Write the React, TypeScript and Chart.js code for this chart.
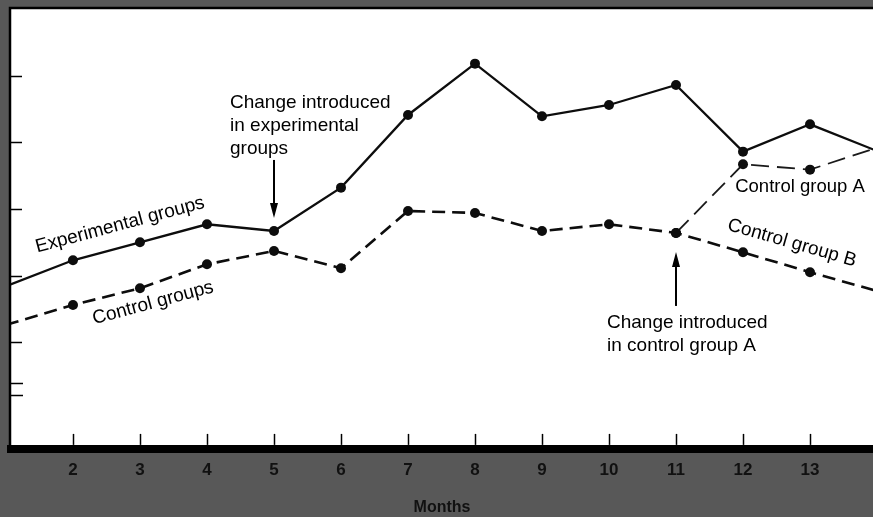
import React, { useEffect, useRef } from 'react';
import { Chart, registerables } from 'chart.js';

Chart.register(...registerables);

// ---- data ----
const months = [1, 2, 3, 4, 5, 6, 7, 8, 9, 10, 11, 12, 13, 14];
const monthTicks = [2, 3, 4, 5, 6, 7, 8, 9, 10, 11, 12, 13];
const experimental = [18.4, 22.3, 25.0, 27.7, 26.7, 33.2, 44.1, 51.8, 43.9, 45.6, 48.6, 38.6, 42.7, 38.7];
const controlB = [12.6, 15.6, 18.1, 21.7, 23.7, 21.1, 29.7, 29.4, 26.7, 27.7, 26.4, 23.5, 20.5, 17.7];
const controlA = [null, null, null, null, null, null, null, null, null, null, 26.4, 36.7, 35.9, 39.2];
const yTickValues = [2.1, 3.9, 10, 20, 30, 40, 50];
const xLabel = 'Months';

const FONT = "'Liberation Sans', Arial, Helvetica, sans-serif";

const toPoints = (vals: (number | null)[]) => months.map((m, i) => ({ x: m, y: vals[i] }));
const radii = (vals: (number | null)[], hidden: number[]) =>
  months.map((m, i) => (vals[i] == null || hidden.includes(m) ? 0 : 5));

const decor = {
  id: 'decor',
  beforeDraw(chart: any) {
    const { ctx, width, height, chartArea } = chart;
    ctx.save();
    ctx.fillStyle = '#585858';
    ctx.fillRect(0, 0, width, height);
    ctx.fillStyle = '#ffffff';
    ctx.fillRect(chartArea.left, chartArea.top, chartArea.right - chartArea.left, chartArea.bottom - chartArea.top);
    ctx.strokeStyle = '#000';
    ctx.lineWidth = 2.5;
    ctx.beginPath();
    ctx.moveTo(chartArea.left - 1, chartArea.bottom);
    ctx.lineTo(chartArea.left - 1, chartArea.top - 1);
    ctx.lineTo(chartArea.right, chartArea.top - 1);
    ctx.stroke();
    ctx.restore();
  },
  afterDatasetsDraw(chart: any) {
    const { ctx, chartArea, scales } = chart;
    const xs = scales.x;
    const ys = scales.y;
    ctx.save();
    // x tick marks (pointing up into the plot)
    ctx.strokeStyle = '#000';
    ctx.lineWidth = 1.5;
    monthTicks.forEach((m) => {
      const px = Math.round(xs.getPixelForValue(m)) + 0.5;
      ctx.beginPath();
      ctx.moveTo(px, chartArea.bottom - 4);
      ctx.lineTo(px, chartArea.bottom - 15);
      ctx.stroke();
    });
    // y tick marks (pointing right into the plot)
    yTickValues.forEach((v, i) => {
      const py = Math.round(ys.getPixelForValue(v)) + 0.5;
      ctx.beginPath();
      ctx.moveTo(chartArea.left, py);
      ctx.lineTo(chartArea.left + (i < 2 ? 12 : 11), py);
      ctx.stroke();
    });

    ctx.fillStyle = '#000';
    ctx.font = `19px ${FONT}`;
    ctx.textAlign = 'left';
    ctx.textBaseline = 'alphabetic';
    // annotation 1
    ['Change introduced', 'in experimental', 'groups'].forEach((t, i) => ctx.fillText(t, 230, 108 + i * 23));
    // annotation 2
    ['Change introduced', 'in control group A'].forEach((t, i) => ctx.fillText(t, 607, 328 + i * 23));

    const arrow = (x: number, y0: number, y1: number) => {
      const dir = y1 > y0 ? 1 : -1;
      ctx.lineWidth = 2;
      ctx.beginPath();
      ctx.moveTo(x, y0);
      ctx.lineTo(x, y1 - dir * 12);
      ctx.stroke();
      ctx.beginPath();
      ctx.moveTo(x, y1);
      ctx.lineTo(x - 4, y1 - dir * 15);
      ctx.lineTo(x + 4, y1 - dir * 15);
      ctx.closePath();
      ctx.fill();
    };
    const ax1 = xs.getPixelForValue(5);
    const ay1 = ys.getPixelForValue(experimental[4]);
    arrow(ax1, ay1 - 71, ay1 - 13);
    const ax2 = xs.getPixelForValue(11);
    const ay2 = ys.getPixelForValue(controlB[10]);
    arrow(ax2, ay2 + 73, ay2 + 19);

    const rotText = (t: string, cx: number, cy: number, deg: number, size: number) => {
      ctx.save();
      ctx.translate(cx, cy);
      ctx.rotate((deg * Math.PI) / 180);
      ctx.font = `${size}px ${FONT}`;
      ctx.textAlign = 'center';
      ctx.textBaseline = 'middle';
      ctx.fillText(t, 0, 0);
      ctx.restore();
    };
    rotText('Experimental groups', 120, 225, -15, 19);
    rotText('Control groups', 153, 303, -15, 19);
    rotText('Control group B', 792, 243, 16, 19);
    rotText('Control group A', 800, 187, 0, 18.5);
    ctx.restore();
  },
};

export default function App() {
  const ref = useRef<HTMLCanvasElement | null>(null);
  useEffect(() => {
    if (!ref.current) return;
    const chart = new Chart(ref.current, {
      type: 'line',
      data: {
        datasets: [
          {
            label: 'Experimental groups',
            data: toPoints(experimental),
            borderColor: '#0d0d0d',
            backgroundColor: '#0d0d0d',
            borderWidth: 2.3,
            pointRadius: radii(experimental, [1, 14]),
            pointBorderWidth: 0,
            tension: 0,
          },
          {
            label: 'Control groups / Control group B',
            data: toPoints(controlB),
            borderColor: '#0d0d0d',
            backgroundColor: '#0d0d0d',
            borderWidth: 2.6,
            borderDash: [13, 7],
            pointRadius: radii(controlB, [1, 14]),
            pointBorderWidth: 0,
            tension: 0,
          },
          {
            label: 'Control group A',
            data: toPoints(controlA),
            borderColor: '#1a1a1a',
            backgroundColor: '#0d0d0d',
            borderWidth: 1.8,
            borderDash: [18, 8],
            pointRadius: radii(controlA, [14]),
            pointBorderWidth: 0,
            tension: 0,
            spanGaps: false,
          },
        ],
      },
      options: {
        animation: false,
        responsive: false,
        maintainAspectRatio: false,
        events: [],
        layout: { padding: { left: 11, top: 9, right: 0, bottom: 0 }, autoPadding: false },
        plugins: { legend: { display: false }, tooltip: { enabled: false } },
        scales: {
          x: {
            type: 'linear',
            min: 1.075,
            max: 13.94,
            afterBuildTicks: (s: any) => {
              s.ticks = monthTicks.map((v) => ({ value: v }));
            },
            grid: { display: false, drawTicks: false },
            border: { display: true, color: '#000', width: 8 },
            ticks: {
              padding: 11,
              color: '#111111',
              font: { family: FONT, size: 17, weight: 'bold' },
              maxRotation: 0,
              autoSkip: false,
            },
            title: {
              display: true,
              text: xLabel,
              color: '#111111',
              font: { family: FONT, size: 16, weight: 'bold' },
              padding: { top: 6.5, bottom: 0 },
            },
          },
          y: {
            type: 'linear',
            display: false,
            min: -6,
            max: 60,
          },
        },
      },
      plugins: [decor],
    } as any);
    return () => chart.destroy();
  }, []);
  return (
    <div style={{ position: 'fixed', left: 0, top: 0, width: 873, height: 517, background: '#585858' }}>
      <canvas ref={ref} width={873} height={517} style={{ display: 'block', width: 873, height: 517 }} />
    </div>
  );
}
